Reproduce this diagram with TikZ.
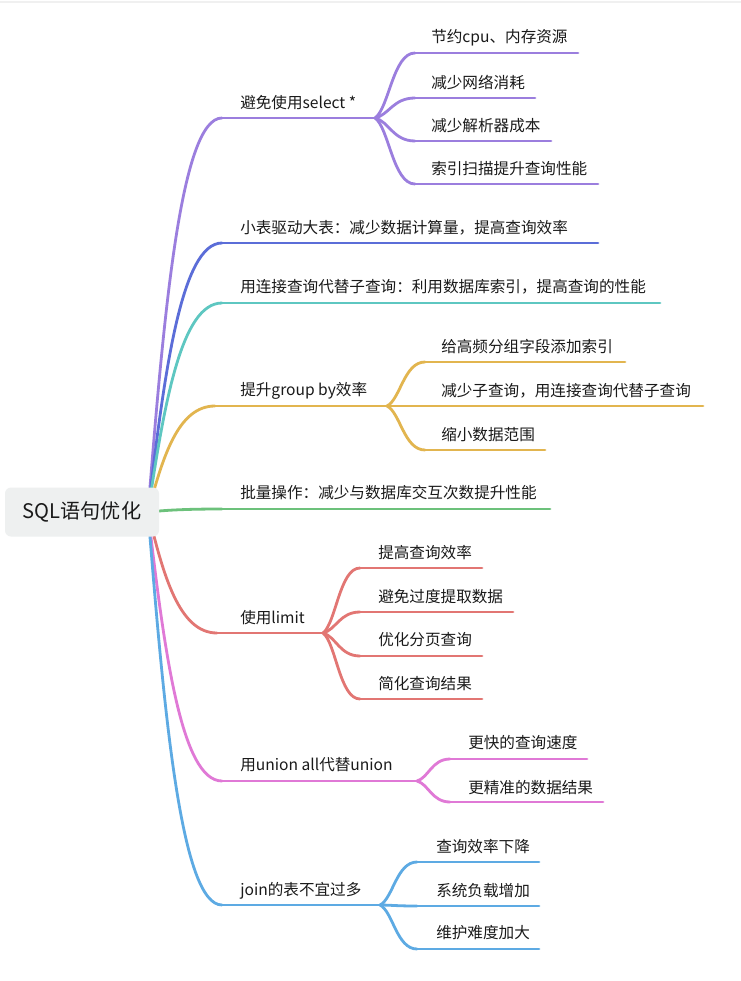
\documentclass[tikz,border=0pt]{standalone}
\usepackage{fontspec}
\setmainfont{Noto Sans CJK SC}
\usetikzlibrary{calc}
\definecolor{cpurple}{HTML}{9B7EDE}
\definecolor{cblue}{HTML}{5B6DD8}
\definecolor{cteal}{HTML}{5EC7C1}
\definecolor{cgold}{HTML}{E2B54F}
\definecolor{cgreen}{HTML}{6CC17B}
\definecolor{cred}{HTML}{E27673}
\definecolor{cpink}{HTML}{E079D6}
\definecolor{clblue}{HTML}{5DAAE3}
\definecolor{rootfill}{HTML}{EEF0F0}
\definecolor{txt}{HTML}{1A1A1A}
\newcommand\mmroot[3]{\draw[br,#1] let \p1=(#2), \p2=(#3) in (#2) .. controls ({\x1+0.22*(\x2-\x1)},{\y1+0.52*(\y2-\y1)}) and ({\x1+0.45*(\x2-\x1)},{\y2}) .. (#3);}
\newcommand\mmsub[3]{\draw[br,#1] let \p1=(#2), \p2=(#3) in (#2) .. controls ({\x1+0.35*(\x2-\x1)},{\y1+0.15*(\y2-\y1)}) and ({\x1+0.45*(\x2-\x1)},{\y2}) .. (#3);}
\tikzset{
  topic/.style={anchor=west, inner sep=0pt, text=txt, font=\fontsize{11.7pt}{14pt}\selectfont},
  br/.style={line width=2.1pt, line cap=round},
  rootbox/.style={fill=rootfill, rounded corners=4.5pt, minimum width=115.5pt, minimum height=36.75pt, inner sep=0pt, text=txt, font=\fontsize{15.1pt}{18pt}\selectfont},
}
\begin{document}
\begin{tikzpicture}[x=0.75pt,y=-0.75pt]
\fill[white] (0,0) rectangle (741,981);
\useasboundingbox (0,0) rectangle (741,981);
\coordinate (tl) at (0,2); \coordinate (tr) at (741,2);
\draw[black!6, line width=1pt] (tl) -- (tr);

\coordinate (r0) at (148,512);

% ---------- Branch 1
\coordinate (b1s) at (222,118); \coordinate (b1e) at (375,118);
\node[topic] (b1) at (240,103) {避免使用select *};
\mmroot{cpurple}{r0}{b1s}
\draw[br,cpurple] (b1s) -- (b1e);
\coordinate (c11s) at (415,53);  \coordinate (c11e) at (578,53);
\coordinate (c12s) at (415,98);  \coordinate (c12e) at (535,98);
\coordinate (c13s) at (415,141); \coordinate (c13e) at (551,141);
\coordinate (c14s) at (415,184); \coordinate (c14e) at (598,184);
\node[topic] (c11) at (431,38)  {节约cpu、内存资源};
\node[topic] (c12) at (431,83)  {减少网络消耗};
\node[topic] (c13) at (431,126) {减少解析器成本};
\node[topic] (c14) at (431,169) {索引扫描提升查询性能};
\foreach \c in {c11,c12,c13,c14}{
  \mmsub{cpurple}{b1e}{\c s}
  \draw[br,cpurple] (\c s) -- (\c e);
}

% ---------- Branch 2
\coordinate (b2s) at (222,243); \coordinate (b2e) at (598,243);
\node[topic] (b2) at (240,228) {小表驱动大表：减少数据计算量，提高查询效率};
\mmroot{cblue}{r0}{b2s}
\draw[br,cblue] (b2s) -- (b2e);

% ---------- Branch 3
\coordinate (b3s) at (222,303); \coordinate (b3e) at (660,303);
\node[topic] (b3) at (240,287) {用连接查询代替子查询：利用数据库索引，提高查询的性能};
\mmroot{cteal}{r0}{b3s}
\draw[br,cteal] (b3s) -- (b3e);

% ---------- Branch 4
\coordinate (b4s) at (215,406); \coordinate (b4e) at (387,406);
\node[topic] (b4) at (240,391) {提升group by效率};
\mmroot{cgold}{r0}{b4s}
\draw[br,cgold] (b4s) -- (b4e);
\coordinate (c41s) at (425,362); \coordinate (c41e) at (625,362);
\coordinate (c42s) at (425,406); \coordinate (c42e) at (703,406);
\coordinate (c43s) at (425,450); \coordinate (c43e) at (545,450);
\node[topic] (c41) at (441,347) {给高频分组字段添加索引};
\node[topic] (c42) at (441,391) {减少子查询，用连接查询代替子查询};
\node[topic] (c43) at (441,435) {缩小数据范围};
\foreach \c in {c41,c42,c43}{
  \mmsub{cgold}{b4e}{\c s}
  \draw[br,cgold] (\c s) -- (\c e);
}

% ---------- Branch 5
\coordinate (b5s) at (222,509); \coordinate (b5e) at (550,509);
\node[topic] (b5) at (240,493) {批量操作：减少与数据库交互次数提升性能};
\mmroot{cgreen}{r0}{b5s}
\draw[br,cgreen] (b5s) -- (b5e);

% ---------- Branch 6
\coordinate (b6s) at (217,633); \coordinate (b6e) at (323,633);
\node[topic] (b6) at (240,618) {使用limit};
\mmroot{cred}{r0}{b6s}
\draw[br,cred] (b6s) -- (b6e);
\coordinate (c61s) at (360,568); \coordinate (c61e) at (482,568);
\coordinate (c62s) at (360,612); \coordinate (c62e) at (513,612);
\coordinate (c63s) at (360,656); \coordinate (c63e) at (482,656);
\coordinate (c64s) at (360,699); \coordinate (c64e) at (482,699);
\node[topic] (c61) at (378,553) {提高查询效率};
\node[topic] (c62) at (378,597) {避免过度提取数据};
\node[topic] (c63) at (378,640) {优化分页查询};
\node[topic] (c64) at (378,684) {简化查询结果};
\foreach \c in {c61,c62,c63,c64}{
  \mmsub{cred}{b6e}{\c s}
  \draw[br,cred] (\c s) -- (\c e);
}

% ---------- Branch 7
\coordinate (b7s) at (222,781); \coordinate (b7e) at (417,781);
\node[topic] (b7) at (240,765) {用union all代替union};
\mmroot{cpink}{r0}{b7s}
\draw[br,cpink] (b7s) -- (b7e);
\coordinate (c71s) at (450,759); \coordinate (c71e) at (587,759);
\coordinate (c72s) at (450,802); \coordinate (c72e) at (603,802);
\node[topic] (c71) at (468,743) {更快的查询速度};
\node[topic] (c72) at (468,788) {更精准的数据结果};
\foreach \c in {c71,c72}{
  \mmsub{cpink}{b7e}{\c s}
  \draw[br,cpink] (\c s) -- (\c e);
}

% ---------- Branch 8
\coordinate (b8s) at (222,905); \coordinate (b8e) at (380,905);
\node[topic] (b8) at (240,891) {join的表不宜过多};
\mmroot{clblue}{r0}{b8s}
\draw[br,clblue] (b8s) -- (b8e);
\coordinate (c81s) at (417,862); \coordinate (c81e) at (539,862);
\coordinate (c82s) at (417,906); \coordinate (c82e) at (539,906);
\coordinate (c83s) at (417,949); \coordinate (c83e) at (539,949);
\node[topic] (c81) at (436,847) {查询效率下降};
\node[topic] (c82) at (436,891) {系统负载增加};
\node[topic] (c83) at (436,933) {维护难度加大};
\foreach \c in {c81,c82,c83}{
  \mmsub{clblue}{b8e}{\c s}
  \draw[br,clblue] (\c s) -- (\c e);
}

% ---------- Root
\node[rootbox] (root) at (82,512) {SQL语句优化};
\end{tikzpicture}
\end{document}
